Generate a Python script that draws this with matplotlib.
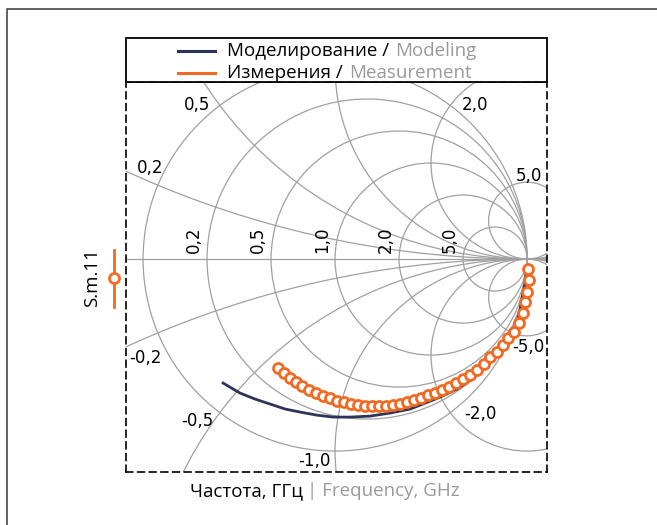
import matplotlib
matplotlib.use("Agg")
import matplotlib.pyplot as plt
from matplotlib.patches import Circle, Rectangle
from matplotlib.lines import Line2D

model_re = [-0.583, -0.495, -0.417, -0.354, -0.260, -0.182, -0.094, -0.010, 0.078, 0.182,
            0.286, 0.391, 0.458, 0.547, 0.635, 0.719, 0.792, 0.844, 0.885, 0.922,
            0.948, 0.964, 0.979, 0.990, 0.995]
model_im = [-0.646, -0.698, -0.729, -0.750, -0.781, -0.797, -0.813, -0.823, -0.823, -0.818,
            -0.802, -0.781, -0.755, -0.719, -0.677, -0.620, -0.557, -0.500, -0.443, -0.385,
            -0.328, -0.260, -0.177, -0.125, -0.073]

meas_re = [-0.297, -0.266, -0.234, -0.203, -0.172, -0.135, -0.099, -0.063, -0.026, 0.010,
           0.047, 0.083, 0.120, 0.156, 0.193, 0.229, 0.266, 0.302, 0.339, 0.375,
           0.411, 0.448, 0.484, 0.521, 0.557, 0.594, 0.630, 0.667, 0.703, 0.740,
           0.776, 0.807, 0.844, 0.875, 0.901, 0.932, 0.958, 0.979, 0.990, 1.000,
           1.010, 1.005]
meas_im = [-0.568, -0.594, -0.620, -0.641, -0.661, -0.682, -0.698, -0.714, -0.724, -0.740,
           -0.745, -0.755, -0.760, -0.766, -0.766, -0.766, -0.766, -0.760, -0.755, -0.745,
           -0.734, -0.724, -0.708, -0.698, -0.682, -0.667, -0.646, -0.625, -0.604, -0.578,
           -0.547, -0.510, -0.484, -0.448, -0.411, -0.380, -0.333, -0.281, -0.224, -0.172,
           -0.109, -0.052]

r_values = [0.2, 0.5, 1.0, 2.0, 5.0]
r_labels = ["0,2", "0,5", "1,0", "2,0", "5,0"]
x_values = [0.2, 0.5, 1.0, 2.0, 5.0, -0.2, -0.5, -1.0, -2.0, -5.0]
x_labels = ["0,2", "0,5", "1,0", "2,0", "5,0", "-0,2", "-0,5", "-1,0", "-2,0", "-5,0"]
# label offsets from the point on the outer circle, pixels
x_offsets = [(-8, 17), (-23, 0), (0, 12), (25, 0), (17, 9),
             (-12, -25), (-23, -8), (-21, -10), (30, -1), (16, -14)]

legend_labels = [("Моделирование /", "Modeling"), ("Измерения /", "Measurement")]

navy = "#2c3459"
orange = "#f26a22"
grid_c = "#a0a0a0"
gray_txt = "#9a9a9a"
W, H = 657, 525
fs = 13.5

fig = plt.figure(figsize=(W / 100, H / 100), dpi=100)
plt.rcParams["font.family"] = ["Open Sans", "DejaVu Sans"]


def fx(px):
    return px / W


def fy(py):
    return 1 - py / H


ax = fig.add_axes([fx(126), fy(472), (547 - 126) / W, (472 - 82) / H])
ax.set_xlim(-1.089, 1.104)
ax.set_ylim(-1.109, 0.922)
ax.set_xticks([])
ax.set_yticks([])
for sp in ax.spines.values():
    sp.set_linestyle((0, (4, 3)))
    sp.set_linewidth(1.2)
    sp.set_color("black")

# smith grid
gkw = dict(fill=False, ec=grid_c, lw=0.9, zorder=1)
ax.add_patch(Circle((0, 0), 1, **gkw))
for r in r_values:
    ax.add_patch(Circle((r / (1 + r), 0), 1 / (1 + r), **gkw))
for x in x_values:
    ax.add_patch(Circle((1, 1 / x), 1 / abs(x), **gkw))
ax.plot([-1.2, 1], [0, 0], color=grid_c, lw=0.9, zorder=1)

lab_font = dict(family="DejaVu Sans", fontsize=12, color="black")
for r, lab in zip(r_values, r_labels):
    ax.annotate(lab, xy=((r - 1) / (r + 1), 0), xytext=(-4, 6), textcoords="offset pixels",
                rotation=90, ha="right", va="bottom", **lab_font)
for x, lab, off in zip(x_values, x_labels, x_offsets):
    g = complex(-1, x) / complex(1, x)
    ax.annotate(lab, xy=(g.real, g.imag), xytext=off, textcoords="offset pixels",
                ha="center", va="center", **lab_font)

ax.plot(model_re, model_im, color=navy, lw=2, zorder=3)
ax.plot(meas_re, meas_im, color=orange, lw=1.5, marker="o", ms=7.2, mfc="white",
        mec=orange, mew=2, zorder=4)

# legend box above the chart
fig.add_artist(Rectangle((fx(126), fy(82)), (547 - 126) / W, 44 / H, transform=fig.transFigure,
                         fc="white", ec="black", lw=1.3, zorder=1))
renderer = fig.canvas.get_renderer()


def two_tone(x, y, black, gray, gap):
    # black part, then the grey translation right after it
    t = fig.text(fx(x), fy(y), black, fontsize=fs, va="baseline", color="black", zorder=3)
    ext = t.get_window_extent(renderer)
    fig.text(fx(ext.x1 + gap), fy(y), gray, fontsize=fs, va="baseline", color=gray_txt, zorder=3)


for (black, gray), col, yy in zip(legend_labels, [navy, orange], [51, 73]):
    fig.add_artist(Line2D([fx(178), fx(215)], [fy(yy), fy(yy)], color=col, lw=2.2, zorder=2))
    two_tone(227, yy + 5, black, gray, 6)

two_tone(190, 496, "Частота, ГГц", "| Frequency, GHz", 4)

# series label on the left
fig.text(fx(92), fy(278), "S.m.11", rotation=90, ha="center", va="center", fontsize=fs)
fig.add_artist(Line2D([fx(114)] * 3, [fy(250), fy(278), fy(307)], color=orange, lw=2,
                      marker="o", markevery=[1], ms=7.2, mfc="white", mec=orange, mew=2))

# outer frame (left and top edges)
fig.add_artist(Line2D([fx(7), fx(7), fx(W)], [fy(H), fy(9), fy(9)], color="#555555", lw=1.3))

fig.savefig("out.png", dpi=100)
